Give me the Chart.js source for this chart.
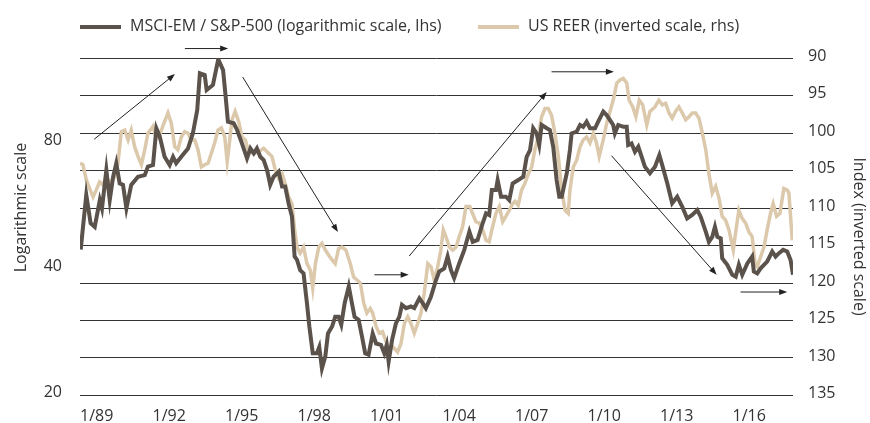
<!DOCTYPE html>
<html>
<head>
<meta charset="utf-8">
<script src="https://cdn.jsdelivr.net/npm/chart.js@4.4.0/dist/chart.umd.min.js"></script>
<style>
  html, body { margin: 0; padding: 0; background: #fff; }
  #wrap { width: 870px; height: 423px; }
</style>
</head>
<body>
<div id="wrap"><canvas id="chart" width="870" height="423"></canvas></div>
<script>
// --- Data ---
const msciDates = [
  1989.03, 1989.26, 1989.44, 1989.61, 1989.82, 1989.91, 1990.09, 1990.23, 1990.37, 1990.50,
  1990.64, 1990.78, 1990.92, 1991.12, 1991.40, 1991.68, 1991.81, 1992.02, 1992.16, 1992.30,
  1992.50, 1992.71, 1992.85, 1992.98, 1993.19, 1993.47, 1993.67, 1993.85, 1993.96, 1994.16,
  1994.24, 1994.50, 1994.72, 1994.92, 1995.02, 1995.12, 1995.36, 1995.50, 1995.70, 1995.91,
  1996.05, 1996.19, 1996.32, 1996.46, 1996.60, 1996.74, 1996.87, 1997.01, 1997.22, 1997.36,
  1997.49, 1997.63, 1997.77, 1997.88, 1997.98, 1998.11, 1998.25, 1998.39, 1998.49, 1998.63,
  1998.80, 1998.90, 1999.01, 1999.15, 1999.26, 1999.43, 1999.56, 1999.70, 1999.81, 1999.95,
  2000.12, 2000.25, 2000.36, 2000.53, 2000.67, 2000.80, 2000.94, 2001.11, 2001.25, 2001.45,
  2001.59, 2001.69, 2001.77, 2001.91, 2002.07, 2002.21, 2002.32, 2002.49, 2002.69, 2002.83,
  2003.04, 2003.18, 2003.31, 2003.52, 2003.73, 2003.86, 2004.07, 2004.21, 2004.35, 2004.48,
  2004.69, 2004.90, 2005.11, 2005.25, 2005.45, 2005.66, 2005.80, 2005.93, 2006.04, 2006.21,
  2006.28, 2006.42, 2006.62, 2006.76, 2006.90, 2007.13, 2007.34, 2007.48, 2007.62, 2007.75,
  2007.89, 2008.00, 2008.10, 2008.31, 2008.44, 2008.58, 2008.72, 2008.83, 2008.93, 2009.14,
  2009.27, 2009.34, 2009.55, 2009.69, 2009.82, 2009.96, 2010.10, 2010.31, 2010.44, 2010.65,
  2010.79, 2010.93, 2011.06, 2011.13, 2011.27, 2011.48, 2011.62, 2011.68, 2011.82, 2011.96,
  2012.10, 2012.24, 2012.37, 2012.58, 2012.79, 2012.97, 2013.09, 2013.30, 2013.50, 2013.71,
  2013.92, 2014.12, 2014.33, 2014.54, 2014.68, 2014.89, 2015.02, 2015.16, 2015.27, 2015.37,
  2015.51, 2015.57, 2015.78, 2015.99, 2016.13, 2016.26, 2016.40, 2016.61, 2016.81, 2016.88,
  2017.02, 2017.16, 2017.43, 2017.64, 2017.78, 2017.92, 2018.09, 2018.26, 2018.40, 2018.50
];
const msciValues = [
  44.6, 60.2, 51.5, 50.5, 58.5, 55.9, 69.0, 58.5, 66.5, 71.6,
  64.1, 63.6, 55.9, 63.6, 66.5, 67.1, 70.3, 70.9, 86.8, 82.9,
  74.2, 70.9, 74.2, 71.6, 74.2, 77.7, 84.4, 95.9, 117.4, 116.3,
  107.1, 110.1, 126.8, 119.5, 104.2, 90.0, 89.2, 86.0, 79.9, 73.6,
  77.7, 75.6, 77.7, 74.2, 72.9, 69.0, 63.6, 66.5, 68.4, 63.0,
  63.0, 57.5, 53.4, 42.9, 42.1, 39.8, 39.1, 33.2, 29.2, 25.2,
  25.2, 26.1, 23.2, 24.8, 28.1, 29.2, 30.8, 30.8, 29.5, 33.2,
  36.4, 33.2, 30.8, 30.3, 27.6, 25.2, 25.0, 28.1, 26.6, 26.4,
  25.2, 26.4, 24.1, 27.1, 29.7, 30.8, 32.9, 32.3, 32.6, 32.3,
  34.1, 33.2, 32.3, 34.4, 37.7, 39.5, 40.2, 42.9, 39.8, 38.1,
  41.3, 44.5, 49.2, 46.5, 47.0, 51.5, 54.4, 53.9, 61.8, 61.8,
  65.3, 59.6, 59.6, 58.5, 64.1, 65.3, 66.5, 74.2, 77.0, 86.8,
  84.4, 79.2, 88.4, 86.8, 86.0, 78.4, 65.3, 59.6, 59.6, 67.8,
  77.0, 84.4, 85.2, 88.4, 87.5, 90.0, 86.8, 86.8, 90.0, 95.1,
  93.3, 90.8, 88.4, 84.4, 88.4, 87.5, 87.5, 79.2, 79.9, 76.3,
  78.4, 74.2, 70.3, 67.8, 70.3, 74.9, 70.9, 64.1, 57.5, 59.6,
  56.4, 52.9, 53.9, 55.4, 53.4, 49.2, 46.5, 47.8, 50.5, 47.8,
  47.4, 42.5, 41.0, 38.8, 38.4, 41.0, 38.8, 41.3, 42.9, 39.5,
  39.1, 40.2, 41.7, 44.1, 42.9, 43.7, 44.5, 44.1, 42.1, 38.8
];

const reerDates = [
  1989.00, 1989.12, 1989.26, 1989.40, 1989.54, 1989.67, 1989.81, 1989.95, 1990.09, 1990.23,
  1990.44, 1990.57, 1990.71, 1990.85, 1990.99, 1991.12, 1991.26, 1991.40, 1991.54, 1991.68,
  1991.81, 1992.02, 1992.16, 1992.30, 1992.47, 1992.64, 1992.78, 1992.92, 1993.05, 1993.19,
  1993.33, 1993.47, 1993.60, 1993.75, 1993.88, 1994.02, 1994.16, 1994.30, 1994.43, 1994.57,
  1994.71, 1994.85, 1994.99, 1995.09, 1995.15, 1995.29, 1995.42, 1995.57, 1995.70, 1995.84,
  1995.98, 1996.19, 1996.39, 1996.60, 1996.81, 1996.94, 1997.08, 1997.22, 1997.36, 1997.49,
  1997.63, 1997.77, 1997.88, 1997.98, 1998.11, 1998.25, 1998.39, 1998.53, 1998.63, 1998.74,
  1998.88, 1999.01, 1999.15, 1999.29, 1999.43, 1999.56, 1999.70, 1999.84, 2000.00, 2000.18,
  2000.32, 2000.46, 2000.60, 2000.74, 2000.87, 2001.01, 2001.11, 2001.25, 2001.38, 2001.52,
  2001.66, 2001.80, 2001.94, 2002.14, 2002.28, 2002.42, 2002.56, 2002.69, 2002.83, 2002.97,
  2003.11, 2003.24, 2003.39, 2003.52, 2003.66, 2003.80, 2003.93, 2004.03, 2004.14, 2004.28,
  2004.42, 2004.56, 2004.69, 2004.83, 2004.97, 2005.13, 2005.24, 2005.38, 2005.52, 2005.66,
  2005.80, 2005.93, 2006.07, 2006.21, 2006.35, 2006.49, 2006.62, 2006.76, 2006.90, 2007.00,
  2007.13, 2007.27, 2007.41, 2007.55, 2007.69, 2007.82, 2007.96, 2008.10, 2008.24, 2008.37,
  2008.51, 2008.65, 2008.79, 2008.93, 2009.07, 2009.20, 2009.27, 2009.41, 2009.55, 2009.69,
  2009.82, 2009.96, 2010.10, 2010.24, 2010.37, 2010.48, 2010.65, 2010.79, 2010.93, 2011.06,
  2011.21, 2011.34, 2011.48, 2011.62, 2011.72, 2011.87, 2012.00, 2012.14, 2012.28, 2012.45,
  2012.58, 2012.79, 2012.95, 2013.09, 2013.23, 2013.37, 2013.50, 2013.64, 2013.78, 2013.92,
  2014.06, 2014.20, 2014.33, 2014.47, 2014.61, 2014.75, 2014.89, 2015.02, 2015.16, 2015.30,
  2015.44, 2015.57, 2015.71, 2015.85, 2016.03, 2016.13, 2016.26, 2016.40, 2016.54, 2016.68,
  2016.81, 2016.93, 2017.02, 2017.16, 2017.30, 2017.43, 2017.57, 2017.68, 2017.82, 2017.96,
  2018.12, 2018.26, 2018.33, 2018.47
];
const reerValues = [
  104.0, 104.2, 106.2, 107.4, 108.5, 107.6, 106.5, 106.9, 105.8, 106.7,
  105.8, 104.0, 99.8, 99.6, 100.9, 99.6, 101.8, 103.1, 104.2, 102.2,
  100.0, 99.1, 100.7, 100.2, 98.7, 97.3, 98.7, 101.8, 102.2, 100.5,
  99.8, 100.0, 100.9, 100.9, 102.2, 104.5, 104.2, 104.0, 102.7, 101.3,
  99.6, 99.3, 100.5, 103.8, 102.2, 98.2, 97.1, 98.5, 100.5, 100.9,
  102.5, 102.7, 102.5, 102.0, 102.7, 103.1, 104.9, 106.0, 105.4, 106.7,
  108.5, 109.4, 112.9, 115.2, 116.0, 115.2, 117.4, 118.3, 120.7, 117.4,
  115.2, 114.7, 115.6, 116.3, 116.9, 117.4, 115.4, 115.2, 115.6, 117.4,
  119.2, 119.6, 120.0, 122.7, 124.0, 123.4, 124.0, 125.8, 126.7, 126.5,
  127.8, 128.9, 128.5, 129.2, 128.1, 125.4, 124.5, 125.4, 126.7, 125.4,
  124.0, 121.4, 117.4, 117.8, 119.6, 117.8, 115.6, 112.9, 113.8, 115.2,
  115.6, 115.2, 113.8, 112.5, 109.8, 109.8, 110.7, 111.8, 112.0, 112.9,
  114.3, 114.5, 112.5, 110.7, 109.8, 111.8, 111.1, 110.3, 109.4, 109.1,
  109.6, 107.6, 106.7, 105.4, 104.5, 102.2, 100.5, 97.8, 96.7, 96.7,
  97.6, 100.0, 103.1, 107.6, 110.3, 110.7, 107.6, 104.5, 103.6, 101.8,
  100.9, 100.5, 101.3, 100.0, 101.3, 103.1, 100.9, 98.7, 97.1, 95.6,
  93.3, 92.9, 92.7, 93.3, 95.6, 96.5, 97.8, 95.6, 96.2, 98.9,
  97.1, 96.5, 95.6, 96.2, 96.0, 97.3, 98.0, 97.1, 96.5, 97.3,
  98.2, 97.8, 97.3, 97.3, 98.0, 100.0, 102.2, 105.4, 108.0, 107.1,
  108.7, 111.1, 111.6, 112.9, 115.6, 113.2, 110.3, 111.4, 112.0, 113.2,
  113.8, 117.4, 117.8, 116.5, 115.2, 112.9, 110.7, 109.4, 111.1, 110.7,
  107.4, 107.6, 108.0, 114.3
];

const xTicks = [1989, 1992, 1995, 1998, 2001, 2004, 2007, 2010, 2013, 2016];
const leftTicks = [20, 40, 80];

// arrows in (year, right-axis value): [fromX, fromY, toX, toY]
const arrows = [
  [1989.59, 100.8, 1992.93, 92.1],
  [1993.34, 88.7, 1995.13, 88.7],
  [1995.73, 92.5, 1999.67, 113.2],
  [2001.18, 118.9, 2002.60, 118.9],
  [2002.62, 116.4, 2008.31, 94.5],
  [2008.51, 91.8, 2011.09, 91.8],
  [2010.99, 103.0, 2015.34, 118.9],
  [2016.33, 121.2, 2018.26, 121.2]
];

const FONT = "'Open Sans', sans-serif";
const TEXT = '#333';
const DARK = '#5a524b';
const BEIGE = '#dcc8aa';

function toPoints(xs, ys) {
  return xs.map((x, i) => ({ x: x, y: ys[i] }));
}

// --- legend, axis titles and arrows ---
const extras = {
  id: 'extras',
  afterDraw(chart) {
    const ctx = chart.ctx;
    const xs = chart.scales.x;
    const ys = chart.scales.yRight;
    ctx.save();

    // legend
    ctx.font = '16px ' + FONT;
    ctx.textBaseline = 'middle';
    ctx.fillStyle = TEXT;
    const legendX = [80, 478];
    chart.data.datasets.forEach((ds, i) => {
      ctx.strokeStyle = ds.borderColor;
      ctx.lineWidth = 4;
      ctx.beginPath();
      ctx.moveTo(legendX[i], 27);
      ctx.lineTo(legendX[i] + 41, 27);
      ctx.stroke();
      ctx.fillText(ds.label, legendX[i] + 50, 26);
    });

    // axis titles
    ctx.textAlign = 'center';
    ctx.save();
    ctx.translate(21.5, 207.5);
    ctx.rotate(-Math.PI / 2);
    ctx.fillText('Logarithmic scale', 0, 0);
    ctx.restore();
    ctx.save();
    ctx.translate(859, 236.5);
    ctx.rotate(Math.PI / 2);
    ctx.fillText('Index (inverted scale)', 0, 0);
    ctx.restore();

    // arrows
    ctx.strokeStyle = '#222';
    ctx.fillStyle = '#222';
    ctx.lineWidth = 1;
    arrows.forEach(a => {
      const x1 = xs.getPixelForValue(a[0]), y1 = ys.getPixelForValue(a[1]);
      const x2 = xs.getPixelForValue(a[2]), y2 = ys.getPixelForValue(a[3]);
      const ang = Math.atan2(y2 - y1, x2 - x1);
      ctx.beginPath();
      ctx.moveTo(x1, y1);
      ctx.lineTo(x2 - 6 * Math.cos(ang), y2 - 6 * Math.sin(ang));
      ctx.stroke();
      ctx.beginPath();
      ctx.moveTo(x2, y2);
      ctx.lineTo(x2 - 8 * Math.cos(ang) + 3 * Math.sin(ang), y2 - 8 * Math.sin(ang) - 3 * Math.cos(ang));
      ctx.lineTo(x2 - 8 * Math.cos(ang) - 3 * Math.sin(ang), y2 - 8 * Math.sin(ang) + 3 * Math.cos(ang));
      ctx.closePath();
      ctx.fill();
    });
    ctx.restore();
  }
};

const tickFont = { family: FONT, size: 16 };

new Chart(document.getElementById('chart').getContext('2d'), {
  type: 'line',
  data: {
    datasets: [
      {
        label: 'MSCI-EM / S&P-500 (logarithmic scale, lhs)',
        data: toPoints(msciDates, msciValues),
        yAxisID: 'yLeft',
        borderColor: DARK,
        borderWidth: 4,
        pointRadius: 0,
        tension: 0
      },
      {
        label: 'US REER (inverted scale, rhs)',
        data: toPoints(reerDates, reerValues),
        yAxisID: 'yRight',
        borderColor: BEIGE,
        borderWidth: 3.5,
        pointRadius: 0,
        tension: 0
      }
    ]
  },
  options: {
    responsive: false,
    animation: false,
    layout: { padding: { top: 58.3, left: 0, right: 0, bottom: 0 } },
    plugins: { legend: { display: false }, tooltip: { enabled: false } },
    scales: {
      x: {
        type: 'linear',
        min: 1989,
        max: 2018.5,
        grid: { display: false, drawTicks: false },
        border: { display: false },
        afterBuildTicks: s => { s.ticks = xTicks.map(v => ({ value: v })); },
        afterFit: s => { s.height = 27.5; },
        ticks: {
          align: 'start',
          padding: 11,
          maxRotation: 0,
          autoSkip: false,
          color: TEXT,
          font: tickFont,
          callback: v => '1/' + String(v).slice(2)
        }
      },
      yLeft: {
        type: 'logarithmic',
        position: 'left',
        min: 20,
        max: 127.5,
        grid: { display: false, drawTicks: false },
        border: { display: false },
        afterBuildTicks: s => { s.ticks = leftTicks.map(v => ({ value: v })); },
        afterFit: s => { s.width = 80; },
        ticks: { padding: 18, labelOffset: -3, color: TEXT, font: tickFont, callback: v => String(v) }
      },
      yRight: {
        type: 'linear',
        position: 'right',
        reverse: true,
        min: 90,
        max: 135,
        grid: { color: '#333', lineWidth: 1, drawTicks: false },
        border: { display: false },
        afterFit: s => { s.width = 77; },
        ticks: { stepSize: 5, padding: 15, labelOffset: -2, color: TEXT, font: tickFont }
      }
    }
  },
  plugins: [extras]
});
</script>
</body>
</html>
